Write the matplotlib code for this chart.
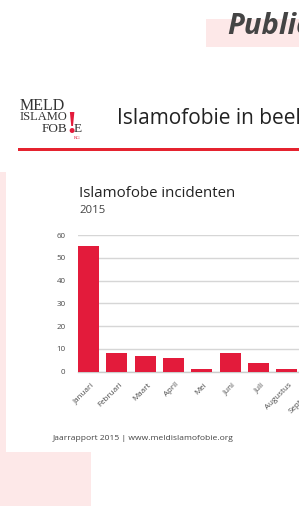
import matplotlib
matplotlib.use("Agg")
import matplotlib.pyplot as plt
from matplotlib.patches import Rectangle
from matplotlib.transforms import ScaledTranslation

W, H = 299, 509

months = ["Januari", "Februari", "Maart", "April", "Mei", "Juni", "Juli", "Augustus", "September"]
values = [55, 8, 7, 6, 1, 8, 4, 1]
yticks = [0, 10, 20, 30, 40, 50, 60]

chart_title = "Islamofobe incidenten"
chart_sub = "2015"
footer = "Jaarrapport 2015 | www.meldislamofobie.org"
header_title = "Islamofobie in beeld"
page_title = "Publicaties"

RED = "#e31b3b"
PINK = "#fde8e8"

fig = plt.figure(figsize=(W / 100, H / 100), dpi=100)
fig.patch.set_facecolor("white")


def fx(x):
    return x / W


def fy(y):
    return 1 - y / H


def rect(x0, y0, x1, y1, color, z=0):
    fig.add_artist(Rectangle((fx(x0), fy(y1)), fx(x1) - fx(x0), fy(y0) - fy(y1),
                             transform=fig.transFigure, facecolor=color,
                             edgecolor="none", zorder=z))


# background shapes
rect(206, 19, 310, 47, PINK, 0)
rect(0, 172, 91, 506, PINK, 0)
rect(6, 160, 310, 452, "white", 0.5)

# page title
fig.text(fx(227), fy(33.5), page_title, fontsize=21, fontweight="bold", fontstyle="italic",
         family="Open Sans", color="#444444", ha="left", va="baseline", zorder=2)

# logo
fig.text(fx(20), fy(110.5), "MELD", fontsize=11.5, family="Liberation Serif", color="#333333",
         ha="left", va="baseline", zorder=2)
fig.text(fx(20), fy(120.5), "ISLAMO", fontsize=9, family="Liberation Serif", color="#333333",
         ha="left", va="baseline", zorder=2)
fig.text(fx(42), fy(131.5), "FOB", fontsize=9.5, family="Liberation Serif", color="#333333",
         ha="left", va="baseline", zorder=2)
fig.text(fx(66.5), fy(133), "!", fontsize=22, fontweight="bold", family="Liberation Serif",
         color=RED, ha="left", va="baseline", zorder=2)
fig.text(fx(73.5), fy(131.5), "E", fontsize=9.5, family="Liberation Serif", color="#333333",
         ha="left", va="baseline", zorder=2)
fig.text(fx(74), fy(139), "RG", fontsize=3.5, family="Liberation Serif", color=RED,
         ha="left", va="baseline", zorder=2)

# header title and red rule
fig.text(fx(117), fy(124.5), header_title, fontsize=15, family="Open Sans", color="#222222",
         ha="left", va="baseline", zorder=2)
rect(18, 148, 310, 151, "#e5232f", 2)

# chart titles
fig.text(fx(79), fy(196.5), chart_title, fontsize=10.8, family="Open Sans", color="#222222",
         ha="left", va="baseline", zorder=2)
fig.text(fx(79), fy(213), chart_sub, fontsize=8.2, family="Open Sans", color="#444444",
         ha="left", va="baseline", zorder=2)
fig.text(fx(53), fy(439.5), footer, fontsize=6.1, family="Open Sans", color="#444444",
         ha="left", va="baseline", zorder=2)

# axes
slot = 28.33
left_px = 78
right_px = 390
x_left = -0.37
x_right = x_left + (right_px - left_px) / slot
ax = fig.add_axes([fx(left_px), fy(371.7), fx(right_px) - fx(left_px), fy(235) - fy(371.7)])
ax.set_zorder(3)
ax.patch.set_alpha(0)
ax.bar(range(len(values)), values, width=0.74, color=RED, zorder=3)
ax.set_xlim(x_left, x_right)
ax.set_ylim(0, 60)
ax.set_yticks(yticks)
ax.yaxis.grid(True, color="#d6d6d6", linewidth=1.0, zorder=0)
ax.set_axisbelow(True)
for s in ["top", "right", "left"]:
    ax.spines[s].set_visible(False)
ax.spines["bottom"].set_color("#cccccc")
ax.spines["bottom"].set_linewidth(1.0)
ax.tick_params(axis="both", length=0, colors="#4a4a4a")
ax.tick_params(axis="y", labelsize=5.8, pad=9)
ax.set_yticklabels([str(v) for v in yticks], family="Open Sans")
ax.set_xticks(range(len(months)))
ax.set_xticklabels(months, rotation=45, ha="right", rotation_mode="anchor",
                   fontsize=5.8, family="Open Sans")
ax.tick_params(axis="x", pad=7)
off = ScaledTranslation(2 / 100, 0, fig.dpi_scale_trans)
for lbl in ax.get_xticklabels():
    lbl.set_transform(lbl.get_transform() + off)

fig.savefig("out.png", dpi=100)
